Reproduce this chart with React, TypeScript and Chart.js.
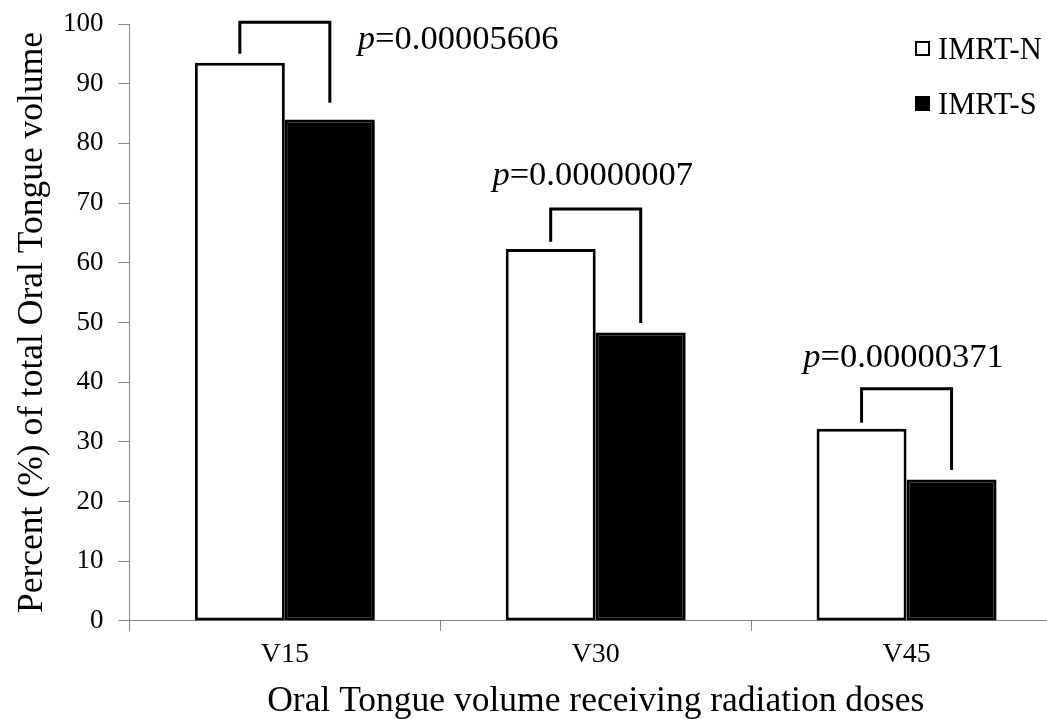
import React, { useEffect, useRef } from "react";
import { Chart, registerables } from "chart.js";

Chart.register(...registerables);

const FONT = '"Liberation Serif", "Times New Roman", serif';

const categories = ["V15", "V30", "V45"];
const seriesLabels = ["IMRT-N", "IMRT-S"];
const imrtN = [93.5, 62.3, 32.2];
const imrtS = [84.0, 48.3, 23.7];
const pValues = ["0.00005606", "0.00000007", "0.00000371"];
const bracketTop = [100.3, 69.0, 38.9];
const bracketLeftEnd = [95.0, 63.5, 33.2];
const bracketRightEnd = [86.8, 49.9, 25.3];
const pLabelBaseline = [95.8, 73.0, 42.5];
const yMin = 0;
const yMax = 100;
const yStep = 10;
const xTitle = "Oral Tongue volume receiving radiation doses";
const yTitle = "Percent (%) of total Oral Tongue volume";

const bracketPlugin = {
  id: "bracketPlugin",
  afterDatasetsDraw(chart: any) {
    const ctx = chart.ctx;
    const y = chart.scales.y;
    const m0 = chart.getDatasetMeta(0);
    const m1 = chart.getDatasetMeta(1);
    ctx.save();
    ctx.strokeStyle = "#000";
    ctx.fillStyle = "#000";
    ctx.lineWidth = 3;
    ctx.lineJoin = "miter";
    categories.forEach((_, i) => {
      const xl = m0.data[i].x;
      const xr = m1.data[i].x;
      const yt = y.getPixelForValue(bracketTop[i]);
      ctx.beginPath();
      ctx.moveTo(xl, y.getPixelForValue(bracketLeftEnd[i]));
      ctx.lineTo(xl, yt);
      ctx.lineTo(xr, yt);
      ctx.lineTo(xr, y.getPixelForValue(bracketRightEnd[i]));
      ctx.stroke();

      const size = 34.5;
      ctx.font = `italic ${size}px ${FONT}`;
      const pw = ctx.measureText("p").width;
      ctx.font = `${size}px ${FONT}`;
      const rest = "=" + pValues[i];
      const rw = ctx.measureText(rest).width;
      const total = pw + rw;
      const x0 = i === 0 ? xr + 28 : (xl + xr) / 2 - total / 2 - 3;
      const by = y.getPixelForValue(pLabelBaseline[i]);
      ctx.textAlign = "left";
      ctx.textBaseline = "alphabetic";
      ctx.font = `italic ${size}px ${FONT}`;
      ctx.fillText("p", x0, by);
      ctx.font = `${size}px ${FONT}`;
      ctx.fillText(rest, x0 + pw, by);
    });
    ctx.restore();
  },
};

const legendPlugin = {
  id: "customLegend",
  afterDraw(chart: any) {
    const ctx = chart.ctx;
    const ds = chart.data.datasets;
    ctx.save();
    const boxX = 915;
    const box = 15;
    const firstCenter = 48.5;
    const spacing = 55;
    ds.forEach((d: any, k: number) => {
      const cy = firstCenter + k * spacing;
      ctx.fillStyle = d.backgroundColor;
      ctx.fillRect(boxX, cy - box / 2, box, box);
      ctx.strokeStyle = "#000";
      ctx.lineWidth = 2;
      ctx.strokeRect(boxX + 1, cy - box / 2 + 1, box - 2, box - 2);
      ctx.fillStyle = "#000";
      ctx.font = `30.5px ${FONT}`;
      ctx.textAlign = "left";
      ctx.textBaseline = "alphabetic";
      ctx.fillText(d.label, boxX + 23, cy + 10);
    });
    ctx.restore();
  },
};

export default function App() {
  const ref = useRef<HTMLCanvasElement | null>(null);

  useEffect(() => {
    if (!ref.current) return;
    const chart = new Chart(ref.current, {
      type: "bar",
      data: {
        labels: categories,
        datasets: [
          {
            label: seriesLabels[0],
            data: imrtN,
            backgroundColor: "#ffffff",
            borderColor: "#000000",
            borderWidth: 3,
            borderSkipped: false,
            categoryPercentage: 0.579,
            barPercentage: 1.0,
          },
          {
            label: seriesLabels[1],
            data: imrtS,
            backgroundColor: "#000000",
            borderColor: "#000000",
            borderWidth: 3,
            borderSkipped: false,
            categoryPercentage: 0.579,
            barPercentage: 1.0,
          },
        ],
      },
      options: {
        responsive: false,
        maintainAspectRatio: false,
        devicePixelRatio: 1,
        animation: false,
        layout: { padding: { left: 0, right: 8, top: 24, bottom: 0 } },
        plugins: {
          legend: { display: false },
          tooltip: { enabled: false },
        },
        scales: {
          x: {
            grid: {
              display: true,
              drawOnChartArea: false,
              drawTicks: true,
              tickLength: 10,
              color: "#868686",
              offset: true,
            },
            border: { display: true, color: "#868686", width: 1 },
            ticks: {
              color: "#000",
              padding: 7,
              font: { family: FONT, size: 28 },
            },
            title: {
              display: true,
              text: xTitle,
              color: "#000",
              font: { family: FONT, size: 35.5, lineHeight: 1 },
              padding: { top: 5, bottom: 0 },
            },
          },
          y: {
            min: yMin,
            max: yMax,
            grid: {
              display: true,
              drawOnChartArea: false,
              drawTicks: true,
              tickLength: 11,
              color: "#868686",
            },
            border: { display: true, color: "#868686", width: 1 },
            ticks: {
              stepSize: yStep,
              color: "#000",
              padding: 15,
              font: { family: FONT, size: 27, lineHeight: 0.6 },
            },
            title: {
              display: true,
              text: yTitle,
              color: "#000",
              font: { family: FONT, size: 35.5, lineHeight: 0.8 },
              padding: { top: 18, bottom: 1.5 },
            },
          },
        },
      },
      plugins: [bracketPlugin, legendPlugin],
    });
    return () => chart.destroy();
  }, []);

  return (
    <div
      style={{
        position: "fixed",
        left: 0,
        top: 0,
        width: 1047,
        height: 719,
        overflow: "hidden",
        background: "#fff",
      }}
    >
      <canvas ref={ref} width={1070} height={719} style={{ display: "block" }} />
    </div>
  );
}
